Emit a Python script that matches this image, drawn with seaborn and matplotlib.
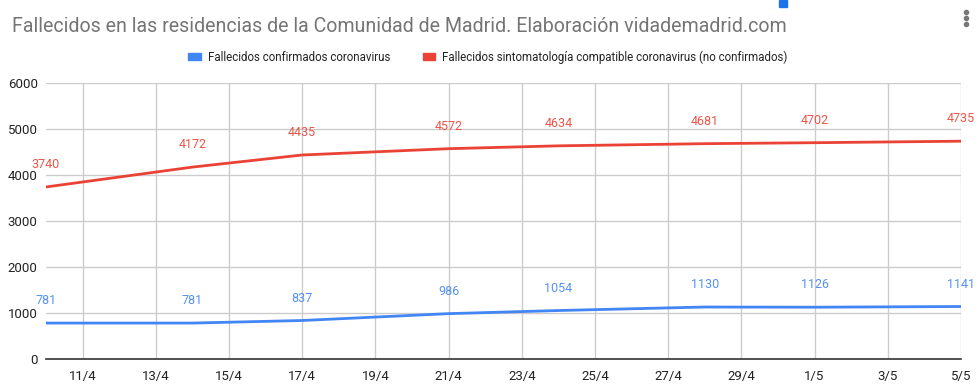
import numpy as np
import pandas as pd
import matplotlib.pyplot as plt
import seaborn as sns
from matplotlib.patches import Rectangle
from matplotlib.lines import Line2D

# dias desde el 10/4
dias = [0, 4, 7, 11, 14, 18, 21, 25]
confirmados = [781, 781, 837, 986, 1054, 1130, 1126, 1141]
compatibles = [3740, 4172, 4435, 4572, 4634, 4681, 4702, 4735]
tick_dias = list(range(1, 26, 2))
tick_labels = ["11/4", "13/4", "15/4", "17/4", "19/4", "21/4", "23/4",
               "25/4", "27/4", "29/4", "1/5", "3/5", "5/5"]
series = ["Fallecidos confirmados coronavirus",
          "Fallecidos sintomatología compatible coronavirus (no confirmados)"]
titulo = "Fallecidos en las residencias de la Comunidad de Madrid. Elaboración vidademadrid.com"

azul = "#4285F4"
rojo = "#EA4335"

df = pd.concat([
    pd.DataFrame({"dia": dias, "valor": confirmados, "serie": series[0]}),
    pd.DataFrame({"dia": dias, "valor": compatibles, "serie": series[1]}),
])

sns.set_style("white")
plt.rcParams['font.family'] = ['Roboto', 'DejaVu Sans']

fig = plt.figure(figsize=(9.77, 3.91), dpi=100)
ax = fig.add_axes([46 / 977, 32 / 391, 915 / 977, 276 / 391])

sns.lineplot(data=df, x="dia", y="valor", hue="serie", palette=[azul, rojo],
             linewidth=2, legend=False, ax=ax, zorder=3)

ax.set_xlim(0, 25)
ax.set_ylim(0, 6000)
ax.set_xticks(tick_dias)
ax.set_xticklabels(tick_labels)
ax.set_yticks(range(0, 6001, 1000))
ax.tick_params(axis="x", length=5, color="#cccccc", labelsize=9.5, labelcolor="#222222", pad=3)
ax.tick_params(axis="y", length=0, labelsize=9.5, labelcolor="#222222", pad=6)
ax.grid(True, color="#cccccc", linewidth=1)
ax.set_axisbelow(True)
for s in ["top", "right", "left"]:
    ax.spines[s].set_visible(False)
ax.spines["bottom"].set_color("#333333")
ax.spines["bottom"].set_linewidth(1.2)
ax.set_xlabel("")
ax.set_ylabel("")

# etiquetas de datos
for vals, col in [(confirmados, azul), (compatibles, rojo)]:
    for d, v in zip(dias, vals):
        ax.annotate(str(v), (d, v), xytext=(0, 16), textcoords="offset points",
                    ha="center", va="center", fontsize=9, color=col, alpha=0.9,
                    annotation_clip=False)

# titulo
fig.text(12 / 977, 1 - 27 / 391, titulo, fontsize=14.1, color="#757575", va="center", ha="left")

# leyenda
handles = [Rectangle((0, 0), 1, 1, color=azul), Rectangle((0, 0), 1, 1, color=rojo)]
fig.legend(handles, series, loc="center", bbox_to_anchor=(488 / 977, 1 - 57 / 391),
           ncol=2, frameon=False, fontsize=8.3, handlelength=1.1, handleheight=0.5,
           handletextpad=0.6, columnspacing=2.8, labelcolor="#222222")

# adornos de la interfaz
fig.patches.append(Rectangle((779 / 977, 1 - 7 / 391), 8 / 977, 7 / 391,
                             transform=fig.transFigure, color="#1a73e8"))
fig.add_artist(Line2D([966 / 977] * 3, [1 - 12 / 391, 1 - 18 / 391, 1 - 24 / 391],
                      transform=fig.transFigure, linestyle="none", marker="o",
                      markersize=3, color="#777777"))

fig.savefig("out.png", dpi=100)
